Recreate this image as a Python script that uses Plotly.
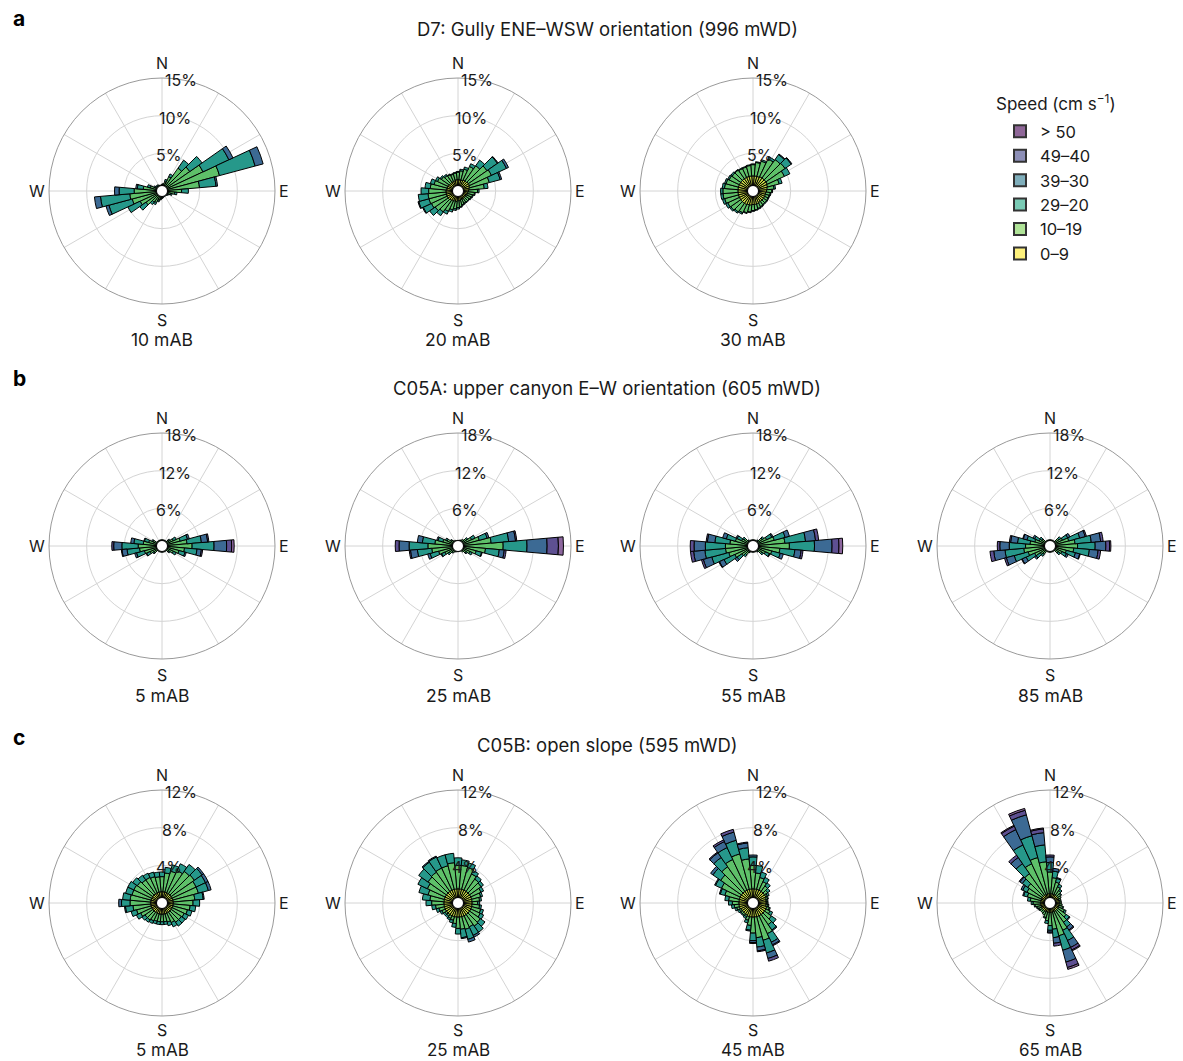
import math
import plotly.graph_objects as go

# ---------------- data ----------------
DIRS = [0, 10, 20, 30, 40, 50, 60, 70, 80, 90, 100, 110, 120, 130, 140, 150, 160, 170,
        180, 190, 200, 210, 220, 230, 240, 250, 260, 270, 280, 290, 300, 310, 320, 330, 340, 350]
SPEED_CLASSES = ["0–9", "10–19", "29–20", "39–30", "49–40", "> 50"]
LEGEND_TITLE = "Speed (cm s<sup>−1</sup>)"
COMPASS = ["N", "E", "S", "W"]

TICKS_A = [5, 10, 15]
TICKS_B = [6, 12, 18]
TICKS_C = [4, 8, 12]

TITLE_A = "D7: Gully ENE–WSW orientation (996 mWD)"
TITLE_B = "C05A: upper canyon E–W orientation (605 mWD)"
TITLE_C = "C05B: open slope (595 mWD)"
LABELS_A = ["10 mAB", "20 mAB", "30 mAB"]
LABELS_B = ["5 mAB", "25 mAB", "55 mAB", "85 mAB"]
LABELS_C = ["5 mAB", "25 mAB", "45 mAB", "65 mAB"]

Z = [0] * 36

# a: D7 10 mAB
a1_y = [.5,.5,.5,.6,.7,.7,.8,.8,.7,.6,.6,.5,.5,.4,.4,.4,.4,.4,.4,.5,.5,.5,.6,.6,.6,.7,.7,.7,.6,.6,.5,.5,.5,.5,.5,.5]
a1_g = [.4,.5,.8,1.5,3.0,3.8,5.2,7.1,4.3,2.0,1.1,.7,.4,.4,.3,.3,.3,.4,.5,.6,.8,1.2,1.2,2.0,2.6,3.4,3.6,3.0,1.9,1.0,.5,.4,.4,.4,.3,.3]
a1_t = [0,0,.3,.4,1.3,2.0,3.8,4.9,2.2,.9,.3,.2,.1,.1,.1,.1,.1,.1,.1,.1,.2,.3,.4,1.0,1.8,3.2,3.9,2.0,.8,.4,.2,.1,.1,0,0,0]
a1_b = [0,0,0,0,0,0,.6,1.1,.2,0,0,0,0,0,0,0,0,0,0,0,0,0,0,0,0,.4,.8,.6,.2,0,0,0,0,0,0,0]
# a: D7 20 mAB
a2_y = [1.5,1.5,1.5,1.6,1.6,1.7,1.7,1.6,1.5,1.4,1.3,1.3,1.2,1.2,1.2,1.2,1.2,1.3,1.3,1.4,1.4,1.5,1.5,1.6,1.6,1.6,1.6,1.6,1.5,1.5,1.5,1.4,1.4,1.4,1.4,1.5]
a2_g = [1.0,1.2,1.5,2.0,2.5,3.0,3.2,2.7,2.0,1.2,.9,.7,.7,.6,.6,.6,.7,.8,.9,1.0,1.2,1.5,1.9,2.1,2.3,2.4,2.4,2.3,2.2,1.8,1.5,1.3,1.1,1.0,.9,.9]
a2_t = [.1,.2,.3,.4,.9,1.7,2.2,1.5,.5,.2,.1,.1,.1,.1,.1,.1,.1,.1,.2,.2,.3,.4,.6,.9,1.2,1.4,1.3,1.0,.7,.5,.3,.2,.2,.1,.1,.1]
a2_b = [0,0,0,0,0,.1,.3,.2,0,0,0,0,0,0,0,0,0,0,0,0,0,0,0,0,.1,.1,0,0,0,0,0,0,0,0,0,0]
# a: D7 30 mAB
a3_y = [2.0,2.0,2.0,2.1,2.1,2.1,2.1,2.0,1.9,1.8,1.7,1.7,1.7,1.7,1.7,1.7,1.8,1.8,1.8,1.9,1.9,2.0,2.0,2.0,2.0,2.0,2.0,2.0,2.0,2.0,2.0,2.0,2.0,2.0,2.0,2.0]
a3_g = [1.5,1.8,2.1,2.6,3.0,3.1,2.5,1.6,.9,.7,.6,.5,.5,.5,.5,.6,.6,.7,.8,.9,1.1,1.2,1.4,1.6,1.7,1.9,2.0,2.0,1.8,1.7,1.5,1.4,1.4,1.3,1.3,1.4]
a3_t = [.1,.1,.2,.3,.8,1.0,.8,.4,.2,.1,.1,.1,.1,.1,.1,.1,.1,.1,.1,.1,.1,.2,.2,.2,.3,.3,.3,.3,.3,.2,.2,.2,.1,.1,.1,.1]
a3_b = [0,0,0,0,.1,.1,0,0,0,0,0,0,0,0,0,0,0,0,0,0,0,0,0,0,0,0,0,0,0,0,0,0,0,0,0,0]

# b: C05A 5 mAB
b1_y = [.5,.5,.5,.5,.5,.6,.6,.7,.8,.8,.8,.7,.6,.6,.5,.5,.5,.5,.5,.5,.5,.5,.5,.6,.6,.7,.8,.8,.7,.6,.6,.5,.5,.5,.5,.5]
b1_g = [.5,.5,.5,.5,.5,.8,1.4,2.3,3.2,4.0,2.8,2.1,1.4,.8,.5,.5,.5,.5,.5,.5,.5,.5,.5,1.0,1.5,2.2,2.8,3.0,2.3,1.6,1.0,.5,.5,.5,.5,.5]
b1_t = [0,0,0,0,0,.2,.5,1.2,2.3,3.5,2.0,1.0,.5,.2,0,0,0,0,0,0,0,0,0,.2,.6,1.3,2.0,2.6,1.5,.7,.2,0,0,0,0,0]
b1_b = [0,0,0,0,0,0,0,.3,1.0,2.0,.7,.2,0,0,0,0,0,0,0,0,0,0,0,0,.1,.3,.8,1.3,.5,.1,0,0,0,0,0,0]
b1_i = [0,0,0,0,0,0,0,0,.2,.8,.2,0,0,0,0,0,0,0,0,0,0,0,0,0,0,0,.1,.3,0,0,0,0,0,0,0,0]
b1_p = [0,0,0,0,0,0,0,0,0,.4,0,0,0,0,0,0,0,0,0,0,0,0,0,0,0,0,0,0,0,0,0,0,0,0,0,0]
# b: C05A 25 mAB
b2_y = [.5,.5,.5,.5,.5,.6,.6,.7,.8,.8,.8,.7,.6,.6,.5,.5,.5,.5,.5,.5,.5,.5,.5,.6,.6,.7,.8,.8,.7,.6,.6,.5,.5,.5,.5,.5]
b2_g = [.4,.4,.5,.6,.8,1.1,1.8,2.8,4.5,6.4,3.6,2.3,1.5,1.0,.7,.4,.4,.4,.4,.4,.5,.6,.8,1.1,1.7,2.5,3.4,4.0,3.0,1.9,1.3,.9,.6,.5,.4,.4]
b2_t = [0,0,0,0,0,.2,.6,1.3,2.8,3.8,2.2,.9,.4,.2,0,0,0,0,0,0,0,0,.1,.3,.6,1.4,2.3,3.0,2.0,.8,.3,.1,0,0,0,0]
b2_b = [0,0,0,0,0,0,0,.3,1.1,3.2,.8,.1,0,0,0,0,0,0,0,0,0,0,0,0,.1,.4,1.1,1.6,.8,.2,0,0,0,0,0,0]
b2_i = [0,0,0,0,0,0,0,0,.2,1.8,.3,0,0,0,0,0,0,0,0,0,0,0,0,0,0,0,.2,.6,0,0,0,0,0,0,0,0]
b2_p = [0,0,0,0,0,0,0,0,0,.8,0,0,0,0,0,0,0,0,0,0,0,0,0,0,0,0,0,0,0,0,0,0,0,0,0,0]
# b: C05A 55 mAB
b3_y = [.5,.5,.5,.5,.5,.6,.6,.7,.8,.8,.8,.7,.6,.6,.5,.5,.5,.5,.5,.5,.5,.5,.6,.6,.7,.8,.8,.8,.7,.7,.6,.6,.5,.5,.5,.5]
b3_g = [.5,.5,.5,.5,.6,1.2,1.8,2.8,4.3,5.0,3.5,2.4,1.6,1.1,.6,.5,.5,.5,.5,.5,.5,.6,1.1,1.6,2.5,3.2,3.6,3.6,3.0,2.2,1.4,1.1,.6,.5,.5,.5]
b3_t = [0,0,0,0,.1,.3,.9,1.8,3.3,4.0,2.4,1.4,.7,.3,.1,0,0,0,0,0,0,.1,.4,.9,1.9,2.8,3.3,3.2,2.4,1.5,.8,.3,.1,0,0,0]
b3_b = [0,0,0,0,0,0,.2,.7,1.6,2.8,1.0,.5,.1,0,0,0,0,0,0,0,0,0,0,.4,.8,1.4,1.8,1.8,1.2,.6,.2,0,0,0,0,0]
b3_i = [0,0,0,0,0,0,0,0,.5,1.1,.3,0,0,0,0,0,0,0,0,0,0,0,0,0,.1,.3,.5,.6,.2,0,0,0,0,0,0,0]
b3_p = [0,0,0,0,0,0,0,0,0,.6,0,0,0,0,0,0,0,0,0,0,0,0,0,0,0,0,0,0,0,0,0,0,0,0,0,0]
# b: C05A 85 mAB
b4_y = [.5,.5,.5,.5,.5,.6,.6,.7,.8,.8,.8,.7,.6,.6,.5,.5,.5,.5,.5,.5,.5,.5,.6,.6,.7,.8,.8,.8,.7,.7,.6,.6,.5,.5,.5,.5]
b4_g = [.5,.5,.5,.5,.5,1.1,1.6,2.4,3.2,3.6,3.0,2.0,1.5,1.0,.5,.5,.5,.5,.5,.5,.5,.5,1.0,1.3,2.0,2.8,3.4,3.1,2.5,1.8,1.3,1.0,.5,.5,.5,.5]
b4_t = [0,0,0,0,0,.4,.9,1.8,2.6,2.8,2.5,1.5,.8,.4,0,0,0,0,0,0,0,0,.4,.8,1.5,2.3,3.0,2.6,2.0,1.3,.8,.4,0,0,0,0]
b4_b = [0,0,0,0,0,0,.4,.9,1.5,1.7,1.4,.7,.3,0,0,0,0,0,0,0,0,0,0,.3,.7,1.3,1.8,1.5,1.1,.6,.3,0,0,0,0,0]
b4_i = [0,0,0,0,0,0,0,.2,.4,.6,.4,.1,0,0,0,0,0,0,0,0,0,0,0,0,.1,.3,.6,.4,.2,.1,0,0,0,0,0,0]
b4_p = [0,0,0,0,0,0,0,0,0,.2,0,0,0,0,0,0,0,0,0,0,0,0,0,0,0,0,0,0,0,0,0,0,0,0,0,0]

# c: C05B 5 mAB
c1_y = [1.2,1.2,1.2,1.2,1.2,1.2,1.2,1.2,1.2,1.2,1.2,1.2,1.2,1.2,1.2,1.2,1.2,1.2,1.2,1.2,1.2,1.2,1.2,1.2,1.2,1.2,1.2,1.2,1.2,1.2,1.2,1.2,1.2,1.2,1.2,1.2]
c1_g = [1.6,2.0,2.3,2.6,2.9,3.0,2.8,2.8,2.3,2.1,1.8,1.6,1.4,1.3,1.3,1.1,.9,.8,.8,.8,.8,.9,1.0,1.0,1.3,1.6,1.9,2.2,2.2,2.1,2.1,2.0,1.8,1.8,1.7,1.6]
c1_t = [.5,.6,.7,.8,.9,1.0,1.1,1.1,.9,.7,.6,.5,.5,.5,.5,.5,.4,.3,.3,.3,.3,.3,.3,.4,.5,.6,.8,.9,.8,.7,.7,.6,.6,.5,.5,.5]
c1_b = [0,0,0,0,0,.2,.3,.3,.1,0,0,0,0,0,0,0,0,0,0,0,0,0,0,0,0,0,.1,.3,0,0,0,0,0,0,0,0]
# c: C05B 25 mAB
c2_y = [1.5,1.5,1.5,1.5,1.5,1.5,1.5,1.5,1.5,1.5,1.5,1.5,1.5,1.5,1.5,1.5,1.5,1.5,1.5,1.5,1.5,1.5,1.5,1.5,1.5,1.5,1.5,1.5,1.5,1.5,1.5,1.5,1.5,1.5,1.5,1.5]
c2_g = [2.5,2.5,2.4,1.9,1.6,1.5,1.2,1.0,.8,.6,.8,1.0,1.1,1.4,1.5,1.3,1.4,1.3,1.2,.7,.4,.3,.2,.2,.4,.6,.9,1.3,1.5,1.8,2.1,2.4,2.5,2.6,2.6,2.8]
c2_t = [.8,.6,.5,.4,.4,.3,.3,.2,.2,.2,.2,.3,.4,.6,.8,1.0,1.1,.9,.6,.4,.3,.2,.2,.2,.2,.3,.4,.6,.8,1.0,1.1,1.2,1.3,1.3,1.2,1.0]
c2_b = [0,0,0,0,0,0,0,0,0,0,0,0,0,0,0,.2,.3,.1,0,0,0,0,0,0,0,0,0,0,0,0,0,0,.1,.1,0,0]
# c: C05B 45 mAB
c3_y = [1.5,1.5,1.5,1.5,1.5,1.5,1.5,1.4,1.4,1.4,1.4,1.5,1.5,1.5,1.5,1.5,1.5,1.5,1.5,1.5,1.5,1.4,1.4,1.4,1.4,1.5,1.5,1.5,1.5,1.5,1.5,1.5,1.5,1.5,1.5,1.5]
c3_g = [2.5,1.7,1.3,1.0,.7,.4,.2,.2,.1,.1,.2,.3,.5,.9,1.3,2.1,2.6,2.2,1.7,.9,.4,.2,.2,.2,.2,.3,.5,.7,1.1,1.6,2.2,2.7,3.2,3.6,3.9,3.2]
c3_t = [.9,.8,.6,.5,.4,.3,.2,.1,.1,.1,.1,.1,.3,.6,.7,1.0,1.4,1.0,.8,.5,.3,.2,.1,.1,.2,.2,.3,.4,.4,.5,.7,1.0,1.2,1.4,1.5,1.2]
c3_b = [.2,0,0,0,0,0,0,0,0,0,0,0,0,0,.1,.3,.6,.4,.2,.1,0,0,0,0,0,0,0,0,0,.1,.1,.3,.6,.7,.9,.5]
c3_i = [0,0,0,0,0,0,0,0,0,0,0,0,0,0,0,.1,.3,.1,.1,0,0,0,0,0,0,0,0,0,0,0,0,0,.1,.2,.3,.1]
# c: C05B 65 mAB
c4_y = [1.0,1.0,1.0,1.0,1.0,1.0,1.0,1.0,1.0,1.0,1.0,1.0,1.0,1.0,1.0,1.0,1.0,1.0,1.0,1.0,1.0,1.0,1.0,1.0,1.0,1.0,1.0,1.0,1.0,1.0,1.0,1.0,1.0,1.0,1.0,1.0]
c4_g = [2.3,1.7,1.3,.9,.6,.4,.3,.2,.2,.2,.3,.4,.7,1.1,1.5,2.2,2.6,1.8,1.4,.9,.6,.4,.3,.3,.3,.4,.6,.8,1.1,1.5,1.7,1.9,2.8,3.6,4.0,3.4]
c4_t = [1.0,.7,.4,.3,.2,.1,0,0,0,0,0,.1,.2,.4,.6,1.2,1.6,.9,.5,.3,.1,0,0,0,.1,.1,.1,.2,.3,.4,.5,.7,1.3,2.2,2.4,1.8]
c4_b = [.6,.3,.1,0,0,0,0,0,0,0,0,0,0,.1,.4,.8,1.3,.6,.2,0,0,0,0,0,0,0,0,0,0,.1,.2,.3,.8,1.8,2.3,1.3]
c4_i = [.2,0,0,0,0,0,0,0,0,0,0,0,0,0,.1,.3,.6,.3,.1,0,0,0,0,0,0,0,0,0,0,0,0,.1,.3,.4,.5,.4]
c4_p = [0,0,0,0,0,0,0,0,0,0,0,0,0,0,0,.1,.2,0,0,0,0,0,0,0,0,0,0,0,0,0,0,0,0,.1,.2,.1]

# ---------------- style ----------------
W, H = 1183, 1061
R = 113
FONT = "Inter"
TXT = "#1a1a1a"
BASE = ["#fde725", "#7ad151", "#22a884", "#2a788e", "#414487", "#440154"]
ALPHA = 0.6
# colours of the stacked bands (overlapping translucent layers as seen in the figure)
BAND_COLORS = ["rgb(196,214,66)", "rgb(94,192,105)", "rgb(38,152,138)",
               "rgb(60,106,148)", "rgb(94,80,146)", "rgb(140,102,158)"]
RLABEL_DEG = 9  # angle (from north) at which % labels sit


def hex2rgb(h):
    h = h.lstrip("#")
    return [int(h[i:i + 2], 16) for i in (0, 2, 4)]


def blend(top, bottom, a):
    return [a * t + (1 - a) * b for t, b in zip(top, bottom)]


def rgb(c):
    return "rgb(%d,%d,%d)" % tuple(round(v) for v in c)


LEGEND_COLORS = [rgb(blend(hex2rgb(c), [255, 255, 255], ALPHA)) for c in BASE]

# (subplot, centre x, centre y, radial ticks, class series, label, S offset, label offset, label size)
ROSES = [
    ("polar", 162, 191, TICKS_A, [a1_y, a1_g, a1_t, a1_b, Z, Z], LABELS_A[0], 129, 149, 17.5),
    ("polar2", 458, 191, TICKS_A, [a2_y, a2_g, a2_t, a2_b, Z, Z], LABELS_A[1], 129, 149, 17.5),
    ("polar3", 753, 191, TICKS_A, [a3_y, a3_g, a3_t, a3_b, Z, Z], LABELS_A[2], 129, 149, 17.5),
    ("polar4", 162, 546, TICKS_B, [b1_y, b1_g, b1_t, b1_b, b1_i, b1_p], LABELS_B[0], 129, 149, 17.5),
    ("polar5", 458, 546, TICKS_B, [b2_y, b2_g, b2_t, b2_b, b2_i, b2_p], LABELS_B[1], 129, 149, 17.5),
    ("polar6", 753, 546, TICKS_B, [b3_y, b3_g, b3_t, b3_b, b3_i, b3_p], LABELS_B[2], 129, 149, 17.5),
    ("polar7", 1050, 546, TICKS_B, [b4_y, b4_g, b4_t, b4_b, b4_i, b4_p], LABELS_B[3], 129, 149, 17.5),
    ("polar8", 162, 903, TICKS_C, [c1_y, c1_g, c1_t, c1_b, Z, Z], LABELS_C[0], 127, 147, 17),
    ("polar9", 458, 903, TICKS_C, [c2_y, c2_g, c2_t, c2_b, Z, Z], LABELS_C[1], 127, 147, 17),
    ("polar10", 753, 903, TICKS_C, [c3_y, c3_g, c3_t, c3_b, c3_i, Z], LABELS_C[2], 127, 147, 17),
    ("polar11", 1050, 903, TICKS_C, [c4_y, c4_g, c4_t, c4_b, c4_i, c4_p], LABELS_C[3], 127, 147, 17),
]


def px(x):
    return x / W


def py(y):
    return 1 - y / H


def note(text, x, y, size=16, xanchor="center", color=TXT, bold=False):
    return dict(text=f"<b>{text}</b>" if bold else text, x=px(x), y=py(y), xref="paper", yref="paper",
                showarrow=False, xanchor=xanchor, yanchor="middle",
                font=dict(family=FONT, size=size, color=color))


fig = go.Figure()
layout = {}
annotations = []
shapes = []

for name, cx, cy, ticks, classes, label, soff, loff, lsize in ROSES:
    for k, vals in enumerate(classes):
        fig.add_trace(go.Barpolar(
            r=vals, theta=DIRS, width=[10] * len(DIRS), subplot=name,
            marker=dict(color=BAND_COLORS[k], line=dict(color="black", width=1)),
            showlegend=False, hoverinfo="skip"))
    layout[name] = dict(
        domain=dict(x=[px(cx - R), px(cx + R)], y=[py(cy + R), py(cy - R)]),
        bgcolor="white", barmode="stack",
        radialaxis=dict(range=[0, ticks[-1]], tickvals=ticks, showticklabels=False,
                        showline=False, ticks="", gridcolor="#d4d4d4", gridwidth=1, layer="below traces"),
        angularaxis=dict(rotation=90, direction="clockwise", tickmode="linear", tick0=0, dtick=30,
                         showticklabels=False, ticks="",
                         showline=True, linecolor="#9a9a9a", linewidth=1,
                         gridcolor="#d4d4d4", gridwidth=1, layer="below traces"),
    )
    # compass letters
    annotations.append(note(COMPASS[0], cx, cy - 128))
    annotations.append(note(COMPASS[1], cx + 122, cy))
    annotations.append(note(COMPASS[2], cx, cy + soff))
    annotations.append(note(COMPASS[3], cx - 125, cy))
    annotations.append(note(label, cx, cy + loff, size=lsize))
    # radial % labels
    scale = R / ticks[-1]
    for t in ticks:
        rr = t * scale
        annotations.append(note(f"{t}%", cx + rr * math.sin(math.radians(RLABEL_DEG)) + 1,
                                cy - rr * math.cos(math.radians(RLABEL_DEG)) + 1))
    hr = 5.5
    shapes.append(dict(type="circle", xref="paper", yref="paper",
                       x0=px(cx - hr), x1=px(cx + hr), y0=py(cy + hr), y1=py(cy - hr),
                       fillcolor="white", line=dict(color="black", width=1), layer="above"))

# legend entries
for k in range(5, -1, -1):
    fig.add_trace(go.Barpolar(r=[0], theta=[0], subplot="polar", name=SPEED_CLASSES[k],
                              marker=dict(color=LEGEND_COLORS[k], line=dict(color="#333", width=1)),
                              showlegend=True, hoverinfo="skip"))

for txt, y in [(TITLE_A, 29), (TITLE_B, 388), (TITLE_C, 745)]:
    annotations.append(note(txt, 607, y, size=18.5))
for txt, y in [("a", 18), ("b", 378), ("c", 737)]:
    annotations.append(note(txt, 11, y, size=21, xanchor="left", color="black", bold=True))
annotations.append(note(LEGEND_TITLE, 994, 103, size=17, xanchor="left"))

fig.update_layout(
    width=W, height=H, margin=dict(l=0, r=0, t=0, b=0),
    paper_bgcolor="white", plot_bgcolor="white",
    font=dict(family=FONT, size=16, color=TXT),
    annotations=annotations, shapes=shapes,
    legend=dict(x=px(1000), y=py(114), xanchor="left", yanchor="top",
                font=dict(family=FONT, size=16.5, color=TXT), traceorder="normal",
                bgcolor="rgba(0,0,0,0)", itemsizing="constant", tracegroupgap=0),
    **layout,
)

fig.write_html("out.html", config={"displayModeBar": False},
               post_script="document.body.style.margin='0';")
